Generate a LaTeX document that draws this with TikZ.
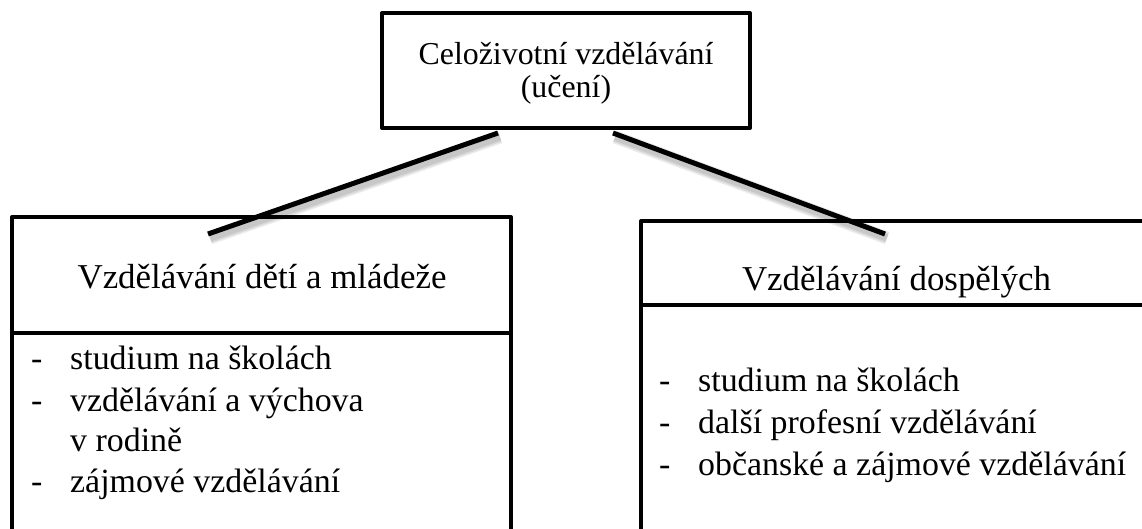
\documentclass[tikz,border=0pt]{standalone}
\usepackage{fontspec}
\setmainfont{Liberation Serif}
\begin{document}
\begin{tikzpicture}[x=1bp,y=-1bp,
  frame/.style={draw=black, line width=4bp, line join=round},
  conn/.style={draw=black, line width=5bp},
  connshadow/.style={draw=black, opacity=0.08, transform canvas={shift={(2bp,-4bp)}}},
  headtext/.style={anchor=base, inner sep=0pt, font=\fontsize{35}{40}\selectfont},
  itemtext/.style={anchor=base west, inner sep=0pt, font=\fontsize{34}{41}\selectfont},
  toptext/.style={anchor=base, inner sep=0pt, font=\fontsize{32}{33}\selectfont}]
\useasboundingbox[fill=white] (0,0) rectangle (1142,529);

% top box
\node[frame, minimum width=368bp, minimum height=115bp, inner sep=0pt] (top) at (566,70.5) {};
\node[toptext] (topa) at (566,65) {Celoživotní vzdělávání};
\node[toptext] (topb) at (566,98) {(učení)};

% left box
\draw[frame] (12,545) -- (12,217) -- (511,217) -- (511,545);
\draw[frame] (12,333) -- (511,333);
\node[headtext] (lhead) at (262,289) {Vzdělávání dětí a mládeže};
\node[itemtext] (ld1) at (31,370) {-};
\node[itemtext] (li1) at (70,370) {studium na školách};
\node[itemtext] (ld2) at (31,411) {-};
\node[itemtext] (li2) at (70,411) {vzdělávání a výchova};
\node[itemtext] (li3) at (70,451.5) {v rodině};
\node[itemtext] (ld4) at (31,492.5) {-};
\node[itemtext] (li4) at (70,492.5) {zájmové vzdělávání};

% right box
\draw[frame] (641,545) -- (641,221) -- (1160,221);
\draw[frame] (641,305.5) -- (1160,305.5);
\node[headtext] (rhead) at (896.5,291) {Vzdělávání dospělých};
\node[itemtext] (rd1) at (659,391) {-};
\node[itemtext] (ri1) at (698,391) {studium na školách};
\node[itemtext] (rd2) at (659,433) {-};
\node[itemtext] (ri2) at (698,433) {další profesní vzdělávání};
\node[itemtext] (rd3) at (659,475) {-};
\node[itemtext] (ri3) at (698,475) {občanské a zájmové vzdělávání};

% connectors
\coordinate (la) at (498,133);
\coordinate (lb) at (208,234);
\coordinate (ra) at (613,133);
\coordinate (rb) at (885,234);
\foreach \w in {13,10,7} {
  \draw[connshadow, line width=\w bp] (la) -- (lb);
  \draw[connshadow, line width=\w bp] (ra) -- (rb);
}
\draw[conn] (la) -- (lb);
\draw[conn] (ra) -- (rb);
\end{tikzpicture}
\end{document}
